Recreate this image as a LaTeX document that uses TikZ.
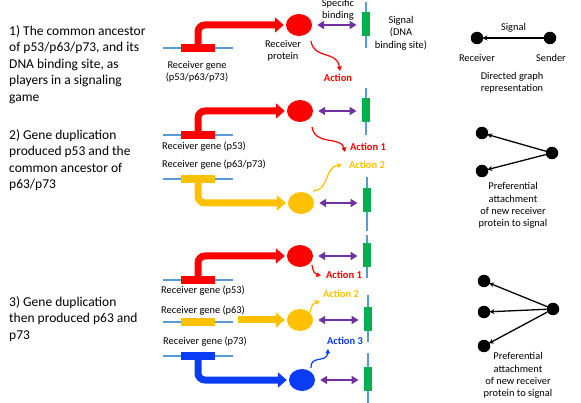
\documentclass[tikz,border=0pt]{standalone}
\usepackage{fontspec}
\setmainfont{Carlito}
\usetikzlibrary{arrows.meta, shapes.geometric, positioning}

\begin{document}
\begin{tikzpicture}[x=1pt, y=-1pt,
    geneLine/.style={draw=lineBlue, line width=2pt},
    geneBox/.style={rectangle, minimum width=34pt, minimum height=8pt, inner sep=0pt},
    protein/.style={ellipse, minimum width=26pt, minimum height=22pt, inner sep=0pt},
    signalLine/.style={draw=lineBlue, line width=2.4pt},
    signalBox/.style={rectangle, fill=signalGreen, minimum width=8.5pt, minimum height=24pt, inner sep=0pt},
    bindArrow/.style={draw=bindPurple, line width=2.2pt, shorten <=5pt, shorten >=5pt,
        {Triangle[width=8pt,length=7pt]}-{Triangle[width=8pt,length=7pt]}},
    exprArrow/.style={line width=7pt, rounded corners=7pt, shorten >=2pt, -{Triangle[width=15pt,length=9pt]}},
    actionArrow/.style={line width=1.2pt, -{Triangle[width=4.5pt,length=4.5pt]}},
    graphDot/.style={circle, fill=black, minimum size=12.5pt, inner sep=0pt},
    graphEdge/.style={line width=1.3pt, shorten >=-1pt, -{Stealth[width=5pt,length=5pt]}},
    stepText/.style={font=\fontsize{13.5}{16.5}\selectfont, align=left, inner sep=0pt, anchor=north west},
    smallText/.style={font=\fontsize{10.4}{12.3}\selectfont, align=center, inner sep=0pt},
    actionText/.style={font=\fontsize{10.5}{12}\selectfont\bfseries, inner sep=0pt}
]

    % Define the colours
    \definecolor{recRed}{HTML}{FF0000}
    \definecolor{recYellow}{HTML}{FFC000}
    \definecolor{recBlue}{HTML}{0A3CF5}
    \definecolor{lineBlue}{HTML}{5B9BD5}
    \definecolor{signalGreen}{HTML}{00B050}
    \definecolor{bindPurple}{HTML}{7030A0}

    % Fix the page size
    \useasboundingbox (0,0) rectangle (581,403);

    % Steps of the story
    \node[stepText] (step1) at (9,25) {1) The common ancestor\\of p53/p63/p73, and its\\DNA binding site, as\\players in a signaling\\game};
    \node[stepText] (step2) at (9,129) {2) Gene duplication\\produced p53 and the\\common ancestor of\\p63/p73};
    \node[stepText] (step3) at (9,296) {3) Gene duplication\\then produced p63 and\\p73};

    % Draw the receiver genes
    \foreach \i/\gy/\col in {1/48/recRed, 2/135/recRed, 3/179/recYellow, 4/280/recRed, 5/322/recYellow, 6/356/recBlue}
    {
        \draw[geneLine] (163,\gy) -- (233,\gy);
        \node[geneBox, fill=\col] (gene\i) at (198,\gy) {};
    }

    % Draw the receiver proteins
    \node[protein, fill=recRed] (prot1) at (299,25) {};
    \node[protein, fill=recRed] (prot2) at (300,111) {};
    \node[protein, fill=recYellow] (prot3) at (301,203) {};
    \node[protein, fill=recRed] (prot4) at (300,256) {};
    \node[protein, fill=recYellow] (prot5) at (300,320) {};
    \node[protein, fill=recBlue] (prot6) at (302,380) {};

    % Draw the signals (DNA binding sites)
    \foreach \i/\sx/\sy/\lt/\lb in {1/366/24/2/48, 2/366/110/88/135, 3/367/200/177/231,
                                    4/367/255/235/278, 5/368/319/295/342, 6/368/379/353/403}
    {
        \draw[signalLine] (\sx,\lt) -- (\sx,\lb);
        \node[signalBox] (sig\i) at (\sx,\sy) {};
    }

    % Expression of the genes
    \draw[exprArrow, recRed] (gene1.north) |- (prot1.west);
    \draw[exprArrow, recRed] (gene2.north) |- (prot2.west);
    \draw[exprArrow, recYellow] (gene3.south) |- (prot3.west);
    \draw[exprArrow, recRed] (gene4.north) |- (prot4.west);
    \coordinate (yellowStart) at (238,320);
    \draw[exprArrow, recYellow] (yellowStart) -- (yellowStart -| prot5.west);
    \draw[exprArrow, recBlue] (gene6.south) |- (prot6.west);

    % Specific binding of protein and signal
    \foreach \i in {1,...,6}
        \draw[bindArrow] (prot\i.east) -- (prot\i.east -| sig\i.west);

    % Labels of the first step
    \node[smallText] (geneLabel) at (197,71.5) {Receiver gene\\(p53/p63/p73)};
    \node[smallText] (protLabel) at (283,51) {Receiver\\protein};
    \node[smallText] (bindLabel) at (338,10) {Specific\\binding};
    \node[smallText] (sigLabel) at (401,33) {Signal\\(DNA\\binding site)};

    % Labels of the later steps
    \node[smallText, anchor=west] (gene2Label) at (162,147) {Receiver gene (p53)};
    \node[smallText, anchor=west] (gene3Label) at (162,165) {Receiver gene (p63/p73)};
    \node[smallText, anchor=west] (gene4Label) at (161,291) {Receiver gene (p53)};
    \node[smallText, anchor=west] (gene5Label) at (161,311) {Receiver gene (p63)};
    \node[smallText, anchor=west] (gene6Label) at (163,342) {Receiver gene (p73)};

    % Actions
    \node[actionText, text=recRed] (act1) at (338,78) {Action};
    \node[actionText, text=recRed] (act2) at (368,147) {Action 1};
    \node[actionText, text=recYellow] (act3) at (367,165) {Action 2};
    \node[actionText, text=recRed] (act4) at (344,275) {Action 1};
    \node[actionText, text=recYellow] (act5) at (341,294) {Action 2};
    \node[actionText, text=recBlue] (act6) at (345,341) {Action 3};

    \coordinate (act1s) at (311,41);   \coordinate (act1e) at (340,71);
    \coordinate (act2s) at (312,127);  \coordinate (act2e) at (345,152);
    \coordinate (act3s) at (313,191);  \coordinate (act3e) at (342,165);
    \coordinate (act4s) at (312,265);  \coordinate (act4e) at (321,276);
    \coordinate (act5s) at (310,313);  \coordinate (act5e) at (320,301);
    \coordinate (act6s) at (311,368);  \coordinate (act6e) at (328,349);

    \draw[actionArrow, recRed] (act1s) .. controls (314,60) and (337,50) .. (act1e);
    \draw[actionArrow, recRed] (act2s) .. controls (315,146) and (341,136) .. (act2e);
    \draw[actionArrow, recYellow] (act3s) .. controls (330,190) and (324,167) .. (act3e);
    \draw[actionArrow, recRed] (act4s) .. controls (313,272) and (315,274) .. (act4e);
    \draw[actionArrow, recYellow] (act5s) .. controls (311,305) and (314,303) .. (act5e);
    \draw[actionArrow, recBlue] (act6s) .. controls (310,355) and (327,363) .. (act6e);

    % Directed graph representation
    \node[graphDot] (rec1) at (477,38) {};
    \node[graphDot] (snd1) at (550,38) {};
    \draw[graphEdge] (snd1) -- node[smallText, above=5pt] (edgeLabel) {Signal} (rec1);
    \node[smallText] (recLabel) at (477,58) {Receiver};
    \node[smallText] (sndLabel) at (551,58) {Sender};
    \node[smallText] (graphLabel) at (512,83) {Directed graph\\representation};

    \node[graphDot] (rec2a) at (482,133) {};
    \node[graphDot] (rec2b) at (482,171) {};
    \node[graphDot] (snd2) at (552,153) {};
    \draw[graphEdge] (snd2) -- (rec2a);
    \draw[graphEdge] (snd2) -- (rec2b);
    \node[smallText] (attach2Label) at (513,205.5) {Preferential\\attachment\\of new receiver\\protein to signal};

    \node[graphDot] (rec3a) at (484,281) {};
    \node[graphDot] (rec3b) at (484,312) {};
    \node[graphDot] (rec3c) at (484,346) {};
    \node[graphDot] (snd3) at (553,309) {};
    \draw[graphEdge] (snd3) -- (rec3a);
    \draw[graphEdge] (snd3) -- (rec3b);
    \draw[graphEdge] (snd3) -- (rec3c);
    \node[smallText] (attach3Label) at (518,375.5) {Preferential\\attachment\\of new receiver\\protein to signal};

\end{tikzpicture}
\end{document}
